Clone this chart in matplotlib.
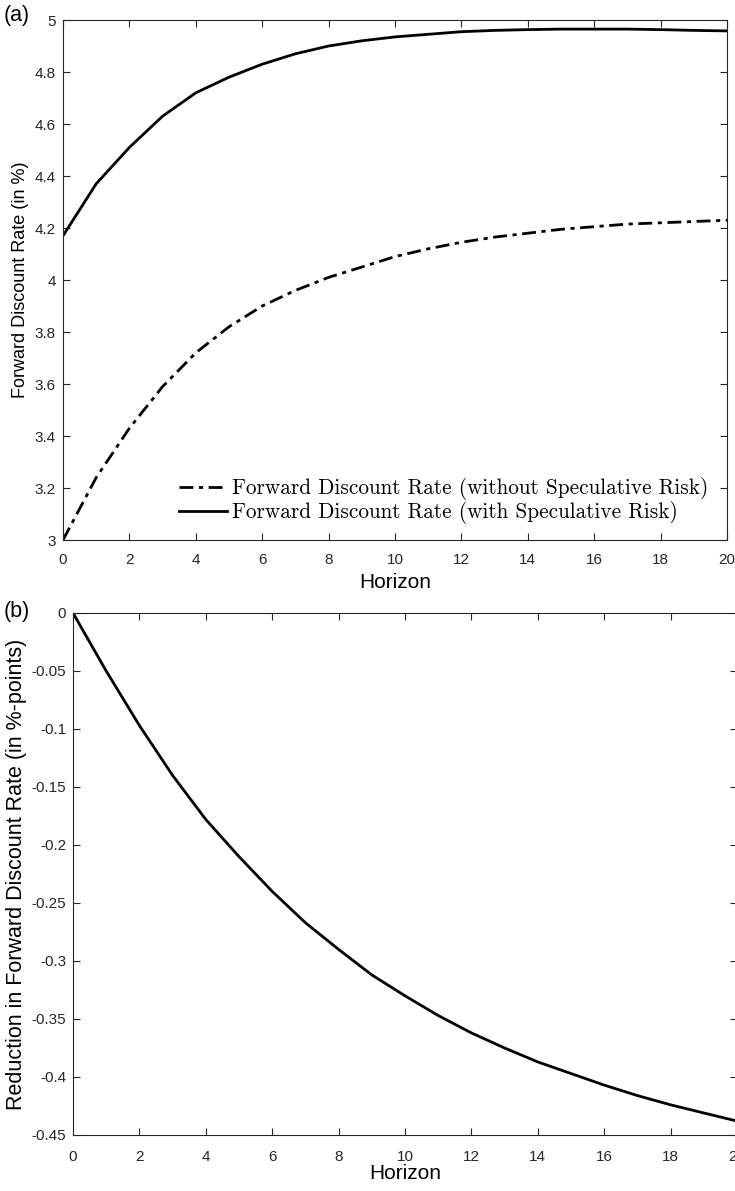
import matplotlib
matplotlib.use("Agg")
import matplotlib.pyplot as plt
import numpy as np

horizon = list(range(0, 21))
rate_without = [3.00, 3.24, 3.43, 3.59, 3.72, 3.82, 3.90, 3.96, 4.01, 4.05, 4.09,
                4.12, 4.145, 4.165, 4.18, 4.195, 4.205, 4.215, 4.22, 4.225, 4.23]
rate_with = [4.17, 4.37, 4.51, 4.63, 4.72, 4.78, 4.83, 4.87, 4.90, 4.92, 4.935,
             4.945, 4.955, 4.96, 4.963, 4.965, 4.965, 4.965, 4.963, 4.96, 4.958]
reduction = [0.0, -0.05, -0.097, -0.14, -0.178, -0.21, -0.24, -0.267, -0.29, -0.312, -0.33,
             -0.347, -0.362, -0.375, -0.387, -0.397, -0.407, -0.416, -0.424, -0.431, -0.438]

top_yticks = [3, 3.2, 3.4, 3.6, 3.8, 4, 4.2, 4.4, 4.6, 4.8, 5]
top_yticklabels = ["3", "3.2", "3.4", "3.6", "3.8", "4", "4.2", "4.4", "4.6", "4.8", "5"]
bot_yticks = [0, -0.05, -0.1, -0.15, -0.2, -0.25, -0.3, -0.35, -0.4, -0.45]
bot_yticklabels = ["0", "-0.05", "-0.1", "-0.15", "-0.2", "-0.25", "-0.3", "-0.35", "-0.4", "-0.45"]
xticks = list(range(0, 21, 2))
xticklabels = [str(v) for v in xticks]

plt.rcParams['font.family'] = ['Liberation Sans', 'DejaVu Sans']
W, H = 735, 1191
fig = plt.figure(figsize=(W / 100, H / 100), dpi=100)

axcol = '#262626'

def style(ax, xpad):
    for s in ax.spines.values():
        s.set_color(axcol)
        s.set_linewidth(0.8)
    ax.tick_params(direction='in', length=5, width=0.8, colors=axcol,
                   labelsize=11, top=True, right=True, labeltop=False, labelright=False)
    ax.tick_params(axis='x', pad=xpad)
    ax.tick_params(axis='y', pad=5)

ax1 = fig.add_axes([63 / W, 1 - 540 / H, (727 - 63) / W, (540 - 20) / H])
ax1.plot(horizon, rate_without, color='black', lw=2.0, linestyle=(0, (5, 2, 1.5, 2)),
         label='Forward Discount Rate (without Speculative Risk)')
ax1.plot(horizon, rate_with, color='black', lw=2.0,
         label='Forward Discount Rate (with Speculative Risk)')
ax1.set_xlim(0, 20)
ax1.set_ylim(3, 5)
ax1.set_xticks(xticks)
ax1.set_xticklabels(xticklabels)
ax1.set_yticks(top_yticks)
ax1.set_yticklabels(top_yticklabels)
ax1.set_xlabel('Horizon', fontsize=15, labelpad=5)
ax1.set_ylabel('Forward Discount Rate (in %)', fontsize=13, labelpad=4)
style(ax1, 9)
leg = ax1.legend(loc='lower right', frameon=False, prop={'family': 'cmr10', 'size': 15.3},
                 handlelength=2.3, handletextpad=0.2, labelspacing=0.05,
                 borderpad=0, borderaxespad=0,
                 bbox_to_anchor=((708 - 63) / 664, 0.03))
fig.text(0.005, 1 - 16 / H, '(a)', fontsize=15.5, va='center', ha='left')

ax2 = fig.add_axes([73 / W, 1 - 1135 / H, (737 - 73) / W, (1135 - 613) / H])
ax2.plot(horizon, reduction, color='black', lw=2.0)
ax2.set_xlim(0, 20)
ax2.set_ylim(-0.45, 0)
ax2.set_xticks(xticks)
ax2.set_xticklabels(xticklabels)
ax2.set_yticks(bot_yticks)
ax2.set_yticklabels(bot_yticklabels)
ax2.set_xlabel('Horizon', fontsize=15, labelpad=0)
ax2.set_ylabel('Reduction in Forward Discount Rate (in %-points)', fontsize=15.5, labelpad=3)
style(ax2, 11)
fig.text(0.005, 1 - 612 / H, '(b)', fontsize=15.5, va='center', ha='left')

fig.savefig('out.png', dpi=100)
